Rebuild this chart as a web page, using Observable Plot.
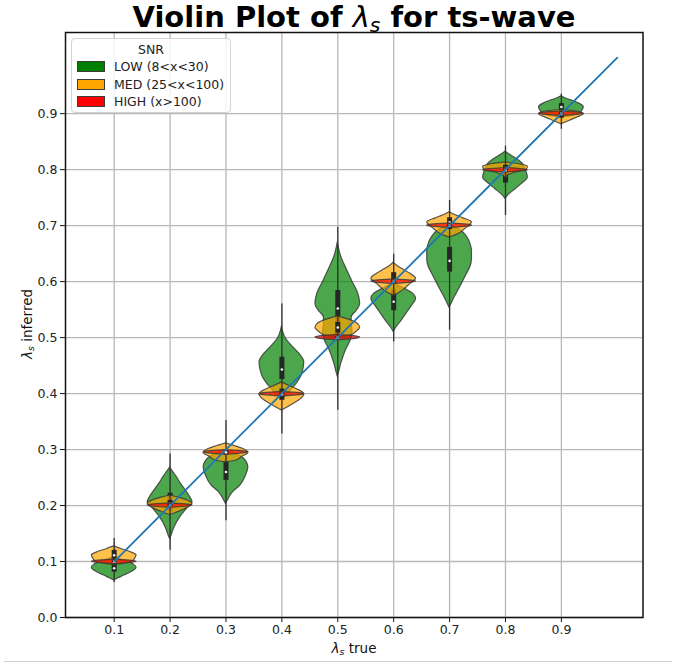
<!DOCTYPE html>
<html>
<head>
<meta charset="utf-8">
<script src="https://cdn.jsdelivr.net/npm/d3@7"></script>
<script src="https://cdn.jsdelivr.net/npm/@observablehq/plot@0.6"></script>
<style>
  body { margin: 0; background: #fff; font-family: "DejaVu Sans", sans-serif; }
  #wrap { position: relative; width: 673px; height: 667px; overflow: hidden; }
  #title { position: absolute; left: 0; top: 3px; width: 708px; text-align: center; font-size: 29px; line-height: 29px; font-weight: bold; color: #000; white-space: nowrap; }
  #title .m { font-weight: normal; font-style: italic; }
  sub { font-size: 0.7em; line-height: 0; vertical-align: -0.25em; }
  #chart { position: absolute; left: 0; top: 28px; }
  #legend { position: absolute; left: 71px; top: 38px; width: 158px; height: 73px; border: 1px solid #d4d4d4; border-radius: 4px; background: rgba(255,255,255,0.82); font-size: 12.5px; color: #222; }
  #legend .t { position: absolute; left: 0; width: 158px; top: 3px; line-height: 15px; text-align: center; }
  #legend .p { position: absolute; left: 5px; width: 26px; height: 9px; border: 1px solid #3c3c3c; }
  #legend .l { position: absolute; left: 42px; line-height: 15px; white-space: nowrap; }
  #xlabel { position: absolute; left: 0; width: 708px; top: 640px; line-height: 16px; text-align: center; font-size: 13.5px; color: #111; }
  #ylabel { position: absolute; left: -73px; top: 316px; width: 200px; line-height: 16px; text-align: center; font-size: 13.5px; color: #111; transform: rotate(-90deg); }
  #bottomrule { position: absolute; left: 4px; width: 668px; top: 661px; height: 1px; background: #d0d0d0; }
</style>
</head>
<body>
<div id="wrap">
  <div id="title">Violin Plot of <span class="m">λ<sub>s</sub></span> for ts-wave</div>
  <div id="chart"></div>
  <div id="legend"></div>
  <div id="xlabel"><i>λ</i><sub><i>s</i></sub> true</div>
  <div id="ylabel"><i>λ</i><sub><i>s</i></sub> inferred</div>
  <div id="bottomrule"></div>
</div>
<script>
// ---------- data ----------
const categories = [0.1, 0.2, 0.3, 0.4, 0.5, 0.6, 0.7, 0.8, 0.9];
const snrLabels = ["LOW (8<x<30)", "MED (25<x<100)", "HIGH (x>100)"];
const snrColors = ["green", "orange", "red"];
const xTicks = [0.1, 0.2, 0.3, 0.4, 0.5, 0.6, 0.7, 0.8, 0.9];
const yTicks = [0.0, 0.1, 0.2, 0.3, 0.4, 0.5, 0.6, 0.7, 0.8, 0.9];
const diagonal = [[0.1, 0.1], [1.0, 1.0]];

// violin profiles: [inferred value, relative half-width]
const lowProfiles = [
  [[0.066,0],[0.070,0.2],[0.075,0.45],[0.080,0.72],[0.085,0.93],[0.089,1.0],[0.094,0.9],[0.099,0.65],[0.104,0.3],[0.108,0]],
  [[0.140,0],[0.146,0.06],[0.161,0.2],[0.179,0.45],[0.194,0.75],[0.206,1.0],[0.215,0.9],[0.228,0.68],[0.239,0.48],[0.252,0.28],[0.262,0.1],[0.268,0]],
  [[0.203,0],[0.212,0.12],[0.224,0.32],[0.236,0.65],[0.254,0.9],[0.268,1.0],[0.278,0.92],[0.286,0.75],[0.292,0.45],[0.298,0]],
  [[0.390,0],[0.398,0.25],[0.408,0.45],[0.417,0.65],[0.429,0.85],[0.441,0.95],[0.456,1.0],[0.468,0.85],[0.483,0.5],[0.497,0.2],[0.512,0.04],[0.520,0]],
  [[0.430,0],[0.440,0.07],[0.453,0.15],[0.465,0.25],[0.477,0.36],[0.495,0.58],[0.510,0.66],[0.525,0.62],[0.536,0.62],[0.548,0.85],[0.560,1.0],[0.572,0.96],[0.585,0.85],[0.596,0.7],[0.610,0.54],[0.626,0.35],[0.645,0.15],[0.660,0.05],[0.670,0]],
  [[0.510,0],[0.518,0.12],[0.530,0.35],[0.542,0.56],[0.557,0.82],[0.569,1.0],[0.578,0.88],[0.585,0.6],[0.592,0.25],[0.597,0]],
  [[0.553,0],[0.566,0.15],[0.581,0.35],[0.596,0.55],[0.614,0.78],[0.626,0.93],[0.640,1.0],[0.655,1.0],[0.665,0.95],[0.673,0.88],[0.682,0.74],[0.691,0.52],[0.697,0.25],[0.701,0]],
  [[0.748,0],[0.755,0.15],[0.765,0.45],[0.775,0.75],[0.786,1.0],[0.795,0.95],[0.803,0.87],[0.810,0.78],[0.819,0.5],[0.826,0.22],[0.832,0]],
  [[0.893,0],[0.897,0.6],[0.903,0.9],[0.912,1.0],[0.918,0.8],[0.923,0.5],[0.927,0.2],[0.931,0]]
];
const medProfiles = [
  [[0.094,0],[0.097,0.6],[0.101,0.85],[0.106,0.95],[0.111,1.0],[0.117,0.72],[0.122,0.35],[0.127,0]],
  [[0.183,0],[0.189,0.4],[0.196,0.8],[0.203,1.0],[0.209,0.78],[0.214,0.38],[0.218,0]],
  [[0.277,0],[0.281,0.5],[0.287,0.72],[0.294,1.0],[0.301,0.78],[0.306,0.42],[0.311,0]],
  [[0.370,0],[0.373,0.15],[0.381,0.5],[0.390,0.85],[0.399,1.0],[0.407,0.72],[0.414,0.32],[0.420,0]],
  [[0.501,0],[0.504,0.6],[0.509,0.8],[0.518,1.0],[0.526,0.85],[0.532,0.5],[0.538,0]],
  [[0.575,0],[0.581,0.3],[0.587,0.5],[0.596,0.75],[0.605,1.0],[0.614,0.75],[0.620,0.5],[0.627,0.2],[0.634,0]],
  [[0.679,0],[0.684,0.35],[0.694,0.7],[0.706,1.0],[0.713,0.62],[0.718,0.3],[0.724,0]],
  [[0.786,0],[0.790,0.12],[0.795,0.45],[0.800,0.95],[0.805,1.0],[0.809,0.72],[0.813,0]],
  [[0.881,0],[0.887,0.35],[0.893,0.7],[0.899,1.0],[0.903,0.8],[0.907,0]]
];
const highProfiles = [
  [[0.0955,0],[0.0978,0.8],[0.0995,1],[0.1012,0.8],[0.1035,0]],
  [[0.1960,0],[0.1983,0.8],[0.2000,1],[0.2017,0.8],[0.2040,0]],
  [[0.2910,0],[0.2933,0.8],[0.2950,1],[0.2967,0.8],[0.2990,0]],
  [[0.3950,0],[0.3973,0.8],[0.3990,1],[0.4007,0.8],[0.4030,0]],
  [[0.4950,0],[0.4978,0.8],[0.5000,1],[0.5022,0.8],[0.5050,0]],
  [[0.5960,0],[0.5983,0.8],[0.6000,1],[0.6017,0.8],[0.6040,0]],
  [[0.6960,0],[0.6983,0.8],[0.7000,1],[0.7017,0.8],[0.7040,0]],
  [[0.7950,0],[0.7973,0.8],[0.7990,1],[0.8007,0.8],[0.8030,0]],
  [[0.8960,0],[0.8983,0.8],[0.9000,1],[0.9017,0.8],[0.9040,0]]
];
// inner box: [whisker low, q1, median, q3, whisker high]
const lowBoxes = [
  [0.062,0.081,0.088,0.095,0.106],
  [0.120,0.190,0.206,0.222,0.292],
  [0.173,0.245,0.260,0.279,0.300],
  [0.395,0.425,0.443,0.465,0.560],
  [0.370,0.500,0.552,0.584,0.697],
  [0.492,0.548,0.564,0.585,0.597],
  [0.513,0.617,0.637,0.661,0.700],
  [0.718,0.776,0.789,0.804,0.842],
  [0.890,0.903,0.912,0.918,0.935]
];
const medBoxes = [
  [0.095,0.104,0.111,0.120,0.141],
  [0.183,0.197,0.203,0.209,0.218],
  [0.277,0.290,0.294,0.299,0.352],
  [0.328,0.388,0.399,0.408,0.420],
  [0.501,0.508,0.518,0.527,0.538],
  [0.575,0.596,0.603,0.616,0.649],
  [0.679,0.693,0.706,0.714,0.745],
  [0.786,0.797,0.803,0.808,0.813],
  [0.872,0.892,0.899,0.904,0.907]
];
const highBoxes = [
  [0.0955,0.0980,0.0995,0.1010,0.1035],
  [0.1960,0.1985,0.2000,0.2015,0.2040],
  [0.2910,0.2935,0.2950,0.2965,0.2990],
  [0.3950,0.3975,0.3990,0.4005,0.4030],
  [0.4960,0.4985,0.5000,0.5015,0.5040],
  [0.5960,0.5985,0.6000,0.6015,0.6040],
  [0.6960,0.6985,0.7000,0.7015,0.7040],
  [0.7950,0.7975,0.7990,0.8005,0.8030],
  [0.8960,0.8985,0.9000,0.9015,0.9040]
];

// ---------- build ----------
const HALF = 0.04; // 0.8 of category spacing / 2
const groups = [
  {profiles: lowProfiles, boxes: lowBoxes, color: snrColors[0]},
  {profiles: medProfiles, boxes: medBoxes, color: snrColors[1]},
  {profiles: highProfiles, boxes: highBoxes, color: snrColors[2]}
];
const marks = [
  Plot.gridX(xTicks, {stroke: "#b8b8b8", strokeOpacity: 1, strokeWidth: 1.3}),
  Plot.gridY(yTicks, {stroke: "#b8b8b8", strokeOpacity: 1, strokeWidth: 1.3})
];
for (const g of groups) {
  const rows = [];
  g.profiles.forEach((prof, i) => prof.forEach(([v, w]) => rows.push({cat: categories[i], v, w, id: i})));
  const boxes = g.boxes.map((b, i) => ({cat: categories[i], wlo: b[0], q1: b[1], med: b[2], q3: b[3], whi: b[4]}));
  marks.push(
    Plot.areaX(rows, {
      y: "v",
      x1: d => d.cat - d.w * HALF,
      x2: d => d.cat + d.w * HALF,
      z: "id",
      fill: g.color,
      fillOpacity: 0.7,
      stroke: "#3a3a3a",
      strokeWidth: 1.2,
      strokeOpacity: 0.85,
      curve: "monotone-y"
    }),
    Plot.ruleX(boxes, {x: "cat", y1: "wlo", y2: "whi", stroke: "#333", strokeWidth: 1.3}),
    Plot.ruleX(boxes, {x: "cat", y1: "q1", y2: "q3", stroke: "#262626", strokeWidth: 5}),
    Plot.dot(boxes, {x: "cat", y: "med", r: 1.3, fill: "#f4f4f4", stroke: null})
  );
}
marks.push(
  Plot.line(diagonal, {x: d => d[0], y: d => d[1], stroke: "#1f77b4", strokeWidth: 1.8}),
  Plot.frame({stroke: "#111", strokeWidth: 1.5}),
  Plot.axisX(xTicks, {anchor: "bottom", tickSize: 5, tickPadding: 3, tickFormat: d => d.toFixed(1), label: null, stroke: "#111", fill: "#222"}),
  Plot.axisY(yTicks, {anchor: "left", tickSize: 5, tickPadding: 3, tickFormat: d => d.toFixed(1), label: null, stroke: "#111", fill: "#222"})
);

const chart = Plot.plot({
  width: 673,
  height: 639,
  marginLeft: 65,
  marginRight: 30.5,
  marginTop: 4,
  marginBottom: 50,
  x: {type: "linear", domain: [0.0129, 1.046]},
  y: {type: "linear", domain: [0, 1.045]},
  style: {fontFamily: "DejaVu Sans", fontSize: "12.5px", background: "transparent", color: "#222"},
  marks
});
document.getElementById("chart").appendChild(chart);

// legend
const legend = document.getElementById("legend");
const t = document.createElement("div");
t.className = "t"; t.textContent = "SNR";
legend.appendChild(t);
snrLabels.forEach((lab, i) => {
  const cy = 27.5 + i * 17.5;
  const p = document.createElement("div");
  p.className = "p"; p.style.top = (cy - 5.5) + "px"; p.style.background = snrColors[i];
  const l = document.createElement("div");
  l.className = "l"; l.style.top = (cy - 7.5) + "px"; l.textContent = lab;
  legend.appendChild(p); legend.appendChild(l);
});
</script>
</body>
</html>
